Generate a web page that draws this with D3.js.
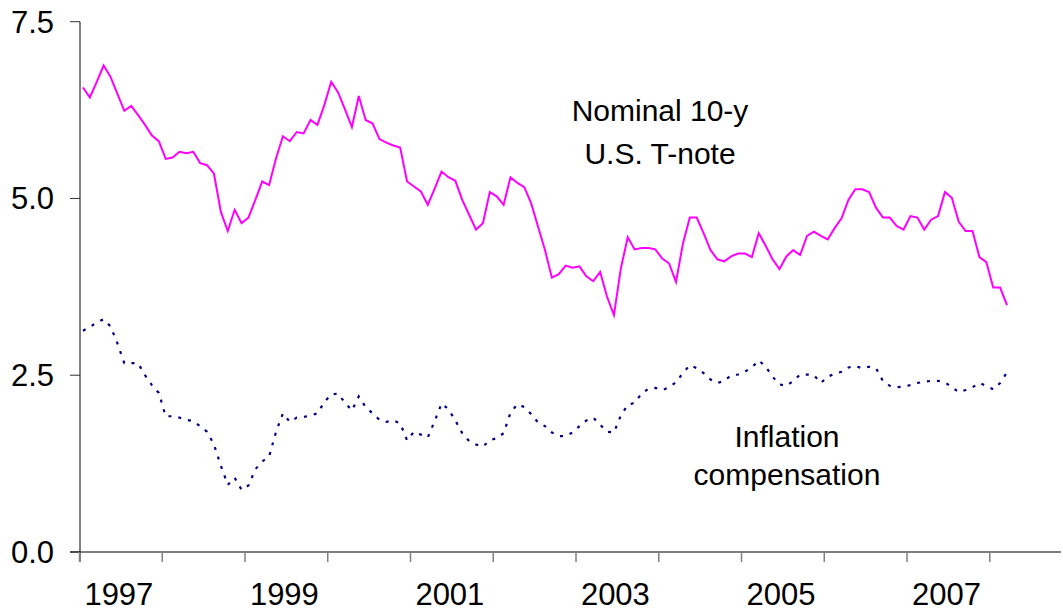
<!DOCTYPE html>
<html>
<head>
<meta charset="utf-8">
<script src="https://cdn.jsdelivr.net/npm/d3@7"></script>
<style>
  body { margin: 0; background: #fff; }
  text { font-family: "Liberation Sans", Arial, sans-serif; }
</style>
</head>
<body>
<div id="viz"></div>
<script>
// monthly values, Jan 1997 .. Mar 2008
const nominal = [
  6.57,6.43,6.65,6.88,6.72,6.48,6.24,6.31,6.18,6.04,5.89,5.81,
  5.56,5.58,5.66,5.64,5.66,5.50,5.47,5.35,4.81,4.54,4.84,4.65,
  4.73,4.98,5.24,5.19,5.57,5.88,5.81,5.94,5.92,6.11,6.04,6.32,
  6.65,6.50,6.26,6.01,6.45,6.11,6.06,5.84,5.79,5.75,5.72,5.24,
  5.17,5.10,4.91,5.14,5.38,5.30,5.25,4.98,4.77,4.56,4.65,5.09,
  5.03,4.91,5.30,5.22,5.16,4.93,4.60,4.27,3.88,3.93,4.05,4.02,
  4.04,3.90,3.83,3.96,3.61,3.35,4.01,4.45,4.28,4.30,4.30,4.28,
  4.15,4.08,3.82,4.36,4.73,4.73,4.51,4.27,4.14,4.11,4.18,4.22,
  4.22,4.17,4.51,4.33,4.14,4.00,4.18,4.27,4.20,4.47,4.53,4.47,
  4.42,4.58,4.72,4.98,5.13,5.13,5.09,4.87,4.73,4.73,4.61,4.56,
  4.75,4.73,4.56,4.70,4.75,5.09,5.01,4.67,4.54,4.54,4.17,4.10,
  3.74,3.74,3.49
]

const inflation = [
  3.13,3.18,3.25,3.29,3.19,2.95,2.67,2.67,2.67,2.50,2.36,2.25,
  1.92,1.92,1.90,1.87,1.85,1.78,1.70,1.52,1.22,0.95,1.05,0.88,
  0.94,1.17,1.28,1.35,1.70,1.96,1.84,1.90,1.91,1.93,1.96,2.12,
  2.23,2.24,2.11,2.00,2.20,2.05,1.96,1.87,1.84,1.86,1.82,1.58,
  1.70,1.66,1.62,1.85,2.10,2.02,1.86,1.68,1.57,1.52,1.49,1.58,
  1.61,1.68,1.97,2.09,2.05,1.95,1.83,1.78,1.69,1.64,1.64,1.69,
  1.78,1.86,1.90,1.80,1.70,1.69,1.93,2.08,2.11,2.24,2.31,2.32,
  2.29,2.33,2.40,2.53,2.64,2.60,2.53,2.44,2.39,2.42,2.50,2.51,
  2.55,2.61,2.71,2.62,2.48,2.37,2.35,2.42,2.51,2.51,2.50,2.39,
  2.48,2.52,2.55,2.61,2.63,2.60,2.62,2.60,2.42,2.35,2.33,2.34,
  2.36,2.39,2.41,2.42,2.42,2.40,2.33,2.26,2.29,2.33,2.39,2.35,
  2.30,2.39,2.54
]

const years = d3.range(1997, 2009)
const yearLabels = ["1997", "1999", "2001", "2003", "2005", "2007"]
const yTicks = [0, 2.5, 5, 7.5]

const width = 1063
const height = 613

const svg = d3.select("#viz").append("svg")
  .attr("width", width)
  .attr("height", height)

// x: months since Jan 1997, category style (points at middle of month)
const x = d3.scaleLinear().domain([0, 144]).range([79.5, 79.5 + 144 * 6.896])
const y = d3.scaleLinear().domain([0, 7.5]).range([552, 21.7])

// y axis
svg.append("line")
  .attr("x1", 80).attr("x2", 80)
  .attr("y1", y(7.5)).attr("y2", y(0) + 10)
  .attr("stroke", "#808080").attr("stroke-width", 2)

svg.selectAll(".ytick").data(yTicks).enter().append("line")
  .attr("x1", 70).attr("x2", 80)
  .attr("y1", d => y(d)).attr("y2", d => y(d))
  .attr("stroke", "#333").attr("stroke-width", 1)

svg.selectAll(".ylab").data(yTicks).enter().append("text")
  .attr("x", 54)
  .attr("y", d => y(d) + 11)
  .attr("text-anchor", "end")
  .attr("font-size", 31)
  .text(d => d3.format(".1f")(d))

// x axis
svg.append("line")
  .attr("x1", 70).attr("x2", 1061)
  .attr("y1", y(0)).attr("y2", y(0))
  .attr("stroke", "#000").attr("stroke-width", 1.2)

svg.selectAll(".xtick").data(years).enter().append("line")
  .attr("x1", d => x((d - 1997) * 12)).attr("x2", d => x((d - 1997) * 12))
  .attr("y1", y(0)).attr("y2", y(0) + 10)
  .attr("stroke", "#808080").attr("stroke-width", 1.5)

svg.selectAll(".xlab").data(yearLabels).enter().append("text")
  .attr("x", d => x((+d - 1997) * 12 + 6) - 2)
  .attr("y", 605)
  .attr("text-anchor", "middle")
  .attr("font-size", 31)
  .text(d => d)

// lines
const line = d3.line()
  .x((d, i) => x(i + 0.5))
  .y(d => y(d))

svg.append("path")
  .datum(nominal)
  .attr("d", line)
  .attr("fill", "none")
  .attr("stroke", "#ff00ff")
  .attr("stroke-width", 2)

svg.append("path")
  .datum(inflation)
  .attr("d", line)
  .attr("fill", "none")
  .attr("stroke", "#000080")
  .attr("stroke-width", 2.2)
  .attr("stroke-dasharray", "3,7")

// labels
const notes = [
  { text: "Nominal 10-y", x: 660, y: 121 },
  { text: "U.S. T-note", x: 660, y: 164 },
  { text: "Inflation", x: 787, y: 447 },
  { text: "compensation", x: 787, y: 485 }
]

svg.selectAll(".note").data(notes).enter().append("text")
  .attr("x", d => d.x)
  .attr("y", d => d.y)
  .attr("text-anchor", "middle")
  .attr("font-size", 30)
  .text(d => d.text)
</script>
</body>
</html>
